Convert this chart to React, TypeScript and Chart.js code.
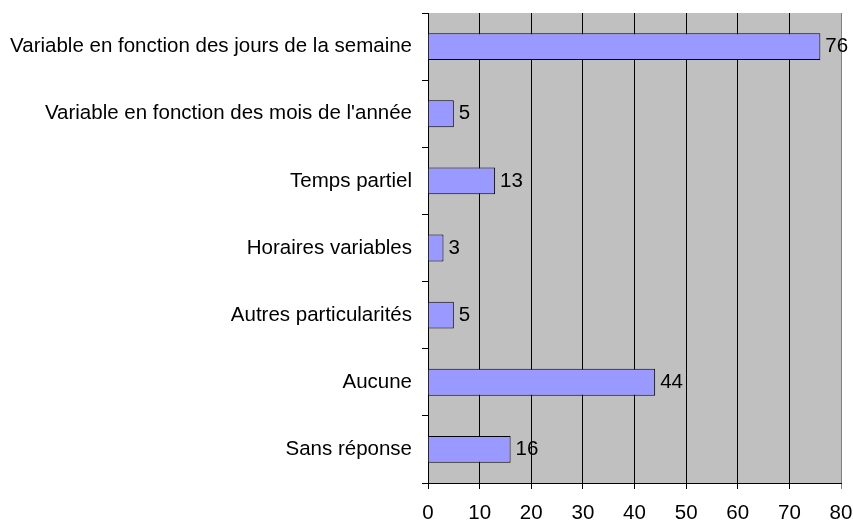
import React, { useEffect, useRef } from "react";
import { Chart, registerables } from "chart.js";

Chart.register(...registerables);

const categories = [
  "Variable en fonction des jours de la semaine",
  "Variable en fonction des mois de l'année",
  "Temps partiel",
  "Horaires variables",
  "Autres particularités",
  "Aucune",
  "Sans réponse",
];
const values = [76, 5, 13, 3, 5, 44, 16];
const xMin = 0;
const xMax = 80;
const xStep = 10;

const FONT = "'Liberation Sans', Arial, sans-serif";
const FS = 20.5;

const plotBackground = {
  id: "plotBackground",
  beforeDraw(chart: any) {
    const { ctx, chartArea } = chart;
    ctx.save();
    ctx.fillStyle = "#C0C0C0";
    ctx.fillRect(chartArea.left, chartArea.top, chartArea.right - chartArea.left, chartArea.bottom - chartArea.top);
    ctx.restore();
  },
};

const valueLabels = {
  id: "valueLabels",
  afterDatasetsDraw(chart: any) {
    const { ctx } = chart;
    const meta = chart.getDatasetMeta(0);
    ctx.save();
    ctx.font = `${FS}px ${FONT}`;
    ctx.fillStyle = "#000";
    ctx.textAlign = "left";
    ctx.textBaseline = "middle";
    meta.data.forEach((bar: any, i: number) => {
      ctx.fillText(String(chart.data.datasets[0].data[i]), bar.x + 5, bar.y);
    });
    ctx.restore();
  },
};

export default function App() {
  const ref = useRef<HTMLCanvasElement>(null);
  useEffect(() => {
    if (!ref.current) return;
    const chart = new Chart(ref.current, {
      type: "bar",
      data: {
        labels: categories,
        datasets: [
          {
            data: values,
            backgroundColor: "#9999FF",
            borderColor: "#000000",
            borderWidth: 1,
            barPercentage: 0.4,
            categoryPercentage: 1,
          },
        ],
      },
      options: {
        indexAxis: "y",
        responsive: false,
        animation: false,
        devicePixelRatio: 1,
        layout: { padding: { top: 13, right: 12, left: 0, bottom: 0 } },
        plugins: { legend: { display: false }, tooltip: { enabled: false } },
        scales: {
          y: {
            type: "category",
            offset: true,
            grid: {
              drawOnChartArea: false,
              drawTicks: true,
              tickLength: 6,
              color: "#000",
              offset: true,
            },
            border: { display: true, color: "#000" },
            ticks: { color: "#000", padding: 10, font: { family: FONT, size: FS } },
            afterFit(scale: any) {
              scale.width = 428;
              scale.paddingTop = 0;
              scale.paddingBottom = 0;
            },
          },
          x: {
            type: "linear",
            min: xMin,
            max: xMax,
            grid: {
              drawOnChartArea: true,
              drawTicks: true,
              tickLength: 6,
              color: (c: any) => (c.tick && c.tick.value === xMax ? "#808080" : "#000"),
            },
            border: { display: true, color: "#000" },
            ticks: { stepSize: xStep, color: "#000", padding: 12, font: { family: FONT, size: FS } },
            afterFit(scale: any) {
              scale.height = 39;
              scale.paddingLeft = 0;
              scale.paddingRight = 0;
            },
          },
        },
      },
      plugins: [plotBackground, valueLabels],
    });
    return () => chart.destroy();
  }, []);
  return (
    <div style={{ position: "fixed", left: 0, top: 0, width: 853, height: 522, background: "#fff" }}>
      <canvas ref={ref} width={853} height={522} />
    </div>
  );
}
